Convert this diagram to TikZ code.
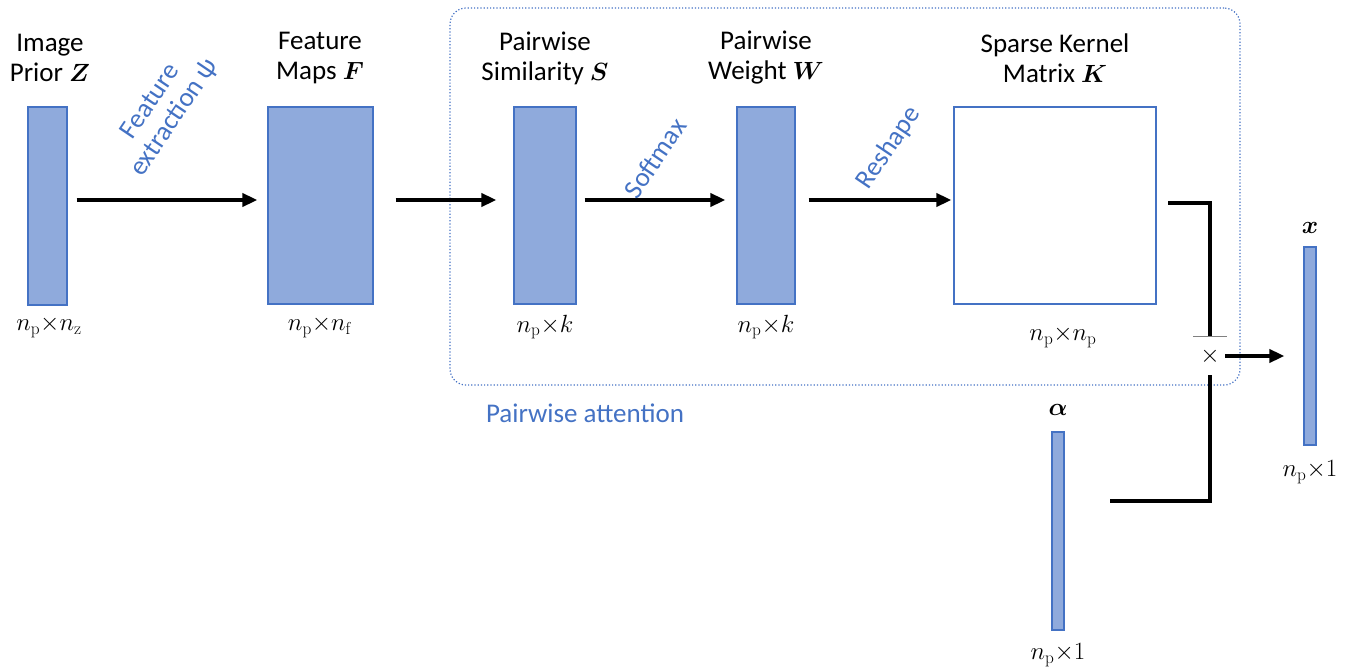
\documentclass[tikz,border=0pt]{standalone}
\usepackage{amsmath,bm}
\usepackage[no-math]{fontspec}
\setmainfont{Carlito}
\usetikzlibrary{arrows.meta}
\definecolor{fillblue}{HTML}{8FAADC}
\definecolor{edgeblue}{HTML}{4472C4}
\definecolor{txtblue}{HTML}{4472C4}
\tikzset{
  blk/.style={draw=edgeblue, fill=fillblue, line width=1.2pt, inner sep=0pt},
  title/.style={align=center, font=\fontsize{27}{30}\selectfont, text=black, inner sep=0pt},
  dimlab/.style={font=\fontsize{27}{30}\selectfont, inner sep=0pt},
  flow/.style={line width=3.6pt, -{Triangle[length=15pt,width=13pt]}},
  bluelab/.style={text=txtblue, font=\fontsize{27}{29}\selectfont, align=center, inner sep=0pt},
  wire/.style={line width=3.6pt}
}
\begin{document}
\begin{tikzpicture}[x=1pt,y=-1pt]
\useasboundingbox (0,0) rectangle (1357,671);
% attention box
\node[draw=edgeblue, dotted, line width=1.2pt, rounded corners=16pt, minimum width=790pt, minimum height=377pt, inner sep=0pt] (att) at (845,196.5) {};
\node[text=txtblue, font=\fontsize{27}{30}\selectfont, inner sep=0pt] (attlab) at (585,413) {Pairwise attention};
% blocks
\node[blk, minimum width=39pt, minimum height=198pt] (Z) at (47.5,206) {};
\node[blk, minimum width=105pt, minimum height=197pt] (F) at (320.5,205.5) {};
\node[blk, minimum width=62pt, minimum height=197pt] (S) at (545,205.5) {};
\node[blk, minimum width=58pt, minimum height=197pt] (W) at (766,205.5) {};
\node[draw=edgeblue, fill=white, line width=1.2pt, inner sep=0pt, minimum width=202pt, minimum height=197pt] (K) at (1055,205.5) {};
\node[blk, minimum width=12pt, minimum height=198pt] (xv) at (1310,346) {};
\node[blk, minimum width=12pt, minimum height=198pt] (al) at (1058,531) {};
% titles
\node[title] (tZ) at (50,58) {Image\\Prior $\bm{Z}$};
\node[title] (tF) at (320,58) {Feature\\Maps $\bm{F}$};
\node[title] (tS) at (545,58) {Pairwise\\Similarity $\bm{S}$};
\node[title] (tW) at (766,58) {Pairwise\\Weight $\bm{W}$};
\node[title] (tK) at (1055,58) {Sparse Kernel\\Matrix $\bm{K}$};
\node[dimlab] (tx) at (1310,228) {$\bm{x}$};
\node[dimlab] (ta) at (1058,410) {$\bm{\alpha}$};
% dimension labels
\node[dimlab] (dZ) at (49,327) {$n_{\mathrm{p}}{\times}n_{\mathrm{z}}$};
\node[dimlab] (dF) at (320,327) {$n_{\mathrm{p}}{\times}n_{\mathrm{f}}$};
\node[dimlab] (dS) at (545,327) {$n_{\mathrm{p}}{\times}k$};
\node[dimlab] (dW) at (766,327) {$n_{\mathrm{p}}{\times}k$};
\node[dimlab] (dK) at (1063,337) {$n_{\mathrm{p}}{\times}n_{\mathrm{p}}$};
\node[dimlab] (dx) at (1310,472) {$n_{\mathrm{p}}{\times}1$};
\node[dimlab] (da) at (1058,655) {$n_{\mathrm{p}}{\times}1$};
% flow arrows
\draw[flow, shorten <=9pt, shorten >=10pt] (Z.east |- 0,200) -- (F.west |- 0,200);
\draw[flow, shorten <=22pt, shorten >=17pt] (F.east |- 0,200) -- (S.west |- 0,200);
\draw[flow, shorten <=8pt, shorten >=11pt] (S.east |- 0,200) -- (W.west |- 0,200);
\draw[flow, shorten <=13pt, shorten >=2pt] (W.east |- 0,200) -- (K.west |- 0,200);
% arrow labels
\node[bluelab, rotate=56] (lfe) at (163,110) {Feature\\extraction ψ};
\node[bluelab, rotate=56] (lsm) at (655,158) {Softmax};
\node[bluelab, rotate=56] (lrs) at (889,148) {Reshape};
% multiplication
\node[inner sep=0pt, minimum width=30pt, minimum height=38pt, font=\fontsize{34}{34}\selectfont] (mul) at (1210,356) {$\times$};
\coordinate (kout) at (1168,203);
\coordinate (ain) at (1110,501);
\draw[wire] (kout) -| (mul.north);
\draw[wire] (mul.south) |- (ain);
\draw[gray, line width=1pt] ([xshift=-17pt]mul.north) -- ([xshift=17pt]mul.north);
\draw[flow, shorten >=19pt] (mul.east) -- (xv.west |- mul.east);
\end{tikzpicture}
\end{document}
